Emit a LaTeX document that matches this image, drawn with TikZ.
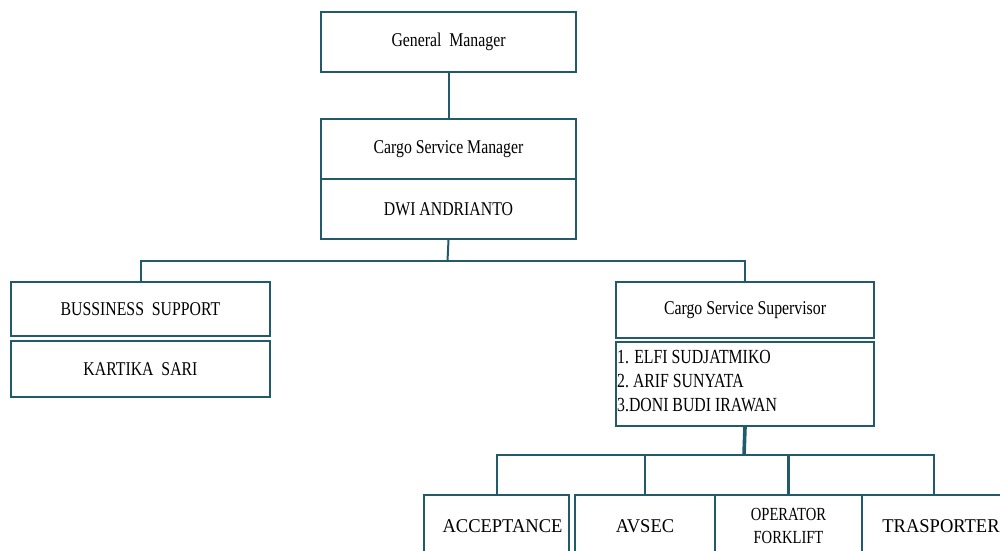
\documentclass[tikz,border=0pt]{standalone}
\usepackage{fontspec}
\setmainfont{Liberation Serif}
% condensed cuts of the serif face for the box labels
\newfontfamily\condA{Liberation Serif}[FakeStretch=0.81]
\newfontfamily\condB{Liberation Serif}[FakeStretch=0.79]
\newfontfamily\condC{Liberation Serif}[FakeStretch=0.95]
\definecolor{orgline}{RGB}{33,90,107}
\tikzset{
  orgbox/.style={draw=orgline, line width=2pt, rectangle, anchor=north west,
    inner sep=0pt, text=black},
  link/.style={draw=orgline, line width=2pt},
  thicklink/.style={draw=orgline, line width=3.6pt},
  lbl/.style={font=\condA\fontsize{19.5}{22}\selectfont},
  lblwide/.style={font=\condC\fontsize{19.5}{22}\selectfont},
  lblnarrow/.style={font=\condB\fontsize{18.5}{23}\selectfont, align=center},
}
\begin{document}
\begin{tikzpicture}[x=1pt,y=-1pt]
\useasboundingbox (0,0) rectangle (1000,550);
\clip (0,0) rectangle (1000,550);

% top management
\node[orgbox, lbl, minimum width=255, minimum height=60] (gm) at (320,11) {General\ \ Manager};
\node[orgbox, lbl, minimum width=255, minimum height=60] (csmT) at (320,118) {Cargo Service Manager};
\node[orgbox, lbl, minimum width=255, minimum height=60] (csmB) at (320,178) {DWI ANDRIANTO};

% second level
\node[orgbox, lbl, minimum width=259, minimum height=54] (bsT) at (10,281) {BUSSINESS\ \ SUPPORT};
\node[orgbox, lbl, minimum width=259, minimum height=56] (bsB) at (10,340) {KARTIKA\ \ SARI};

\node[orgbox, lbl, minimum width=258, minimum height=56] (cssT) at (615,281) {Cargo Service Supervisor\hspace{6pt}};
\node[orgbox, minimum width=258, minimum height=84] (cssB) at (615,341) {};
\node[anchor=north west, inner sep=0pt, align=left,
      font=\condB\fontsize{20}{24}\selectfont] (cssList) at (617,350)
  {1. ELFI SUDJATMIKO\\2.\ ARIF SUNYATA\\3.DONI BUDI IRAWAN};

% operational units
\node[orgbox, lblwide, minimum width=145, minimum height=62] (acc) at (423,494) {\hspace{12pt}ACCEPTANCE};
\node[orgbox, lblwide, minimum width=140, minimum height=62] (avs) at (574,494) {AVSEC};
\node[orgbox, lblnarrow, minimum width=147, minimum height=62] (opf) at (714,494) {OPERATOR\\FORKLIFT};
\node[orgbox, lblwide, minimum width=144, minimum height=62] (trs) at (861,494) {\hspace{14pt}TRASPORTER};

% junction points of the connectors
\coordinate (j1) at (447.5,261);
\coordinate (j2) at (744,455);

% connectors
\draw[link] (gm.south) -- (csmT.north);
\draw[link] (csmB.south) -- (j1);
\draw[link] (bsT.north) |- (j1);
\draw[link] (cssT.north) |- (j1);
\draw[thicklink] (cssB.south) -- (j2);
\draw[link] (acc.north) |- (j2);
\draw[link] (trs.north) |- (j2);
\draw[link] (avs.north) -- (avs.north |- j2);
\draw[thicklink] (opf.north) -- (opf.north |- j2);
\end{tikzpicture}
\end{document}
